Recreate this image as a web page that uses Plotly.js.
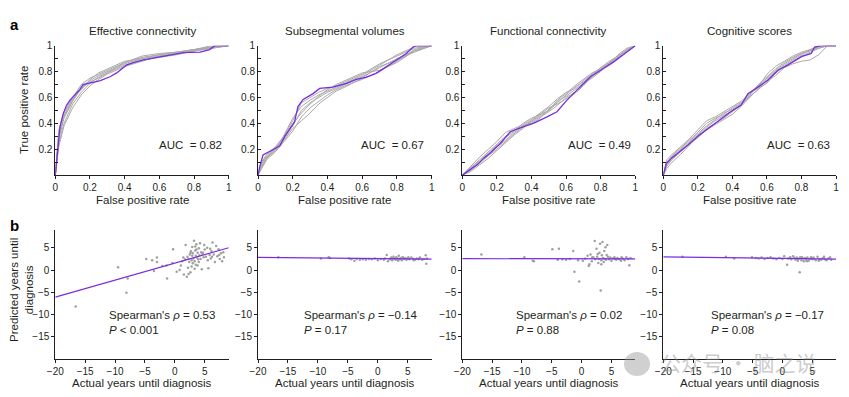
<!DOCTYPE html>
<html><head><meta charset="utf-8">
<script src="https://cdn.plot.ly/plotly-3.0.1.min.js"></script>
<style>html,body{margin:0;padding:0;background:#fff}#c{width:849px;height:397px}</style>
</head><body><div id="c"></div>
<script>
// ---------- DATA ----------
const panelTitles = ["Effective connectivity","Subsegmental volumes","Functional connectivity","Cognitive scores"];
const aucLabels = ["0.82","0.67","0.49","0.63"];
const rhoLabels = ["0.53","\u22120.14","0.02","\u22120.17"];
const pLabels = ["< 0.001","= 0.17","= 0.88","= 0.08"];

// main (purple) ROC curves
const rocFpr1 = [0,0.012,0.027,0.046,0.065,0.085,0.113,0.142,0.16,0.2,0.26,0.315,0.354,0.41,0.45,0.51,0.6,0.74,0.835,0.89,0.92,1];
const rocTpr1 = [0,0.195,0.374,0.477,0.54,0.58,0.62,0.663,0.70,0.71,0.73,0.76,0.79,0.85,0.87,0.89,0.91,0.946,0.95,0.97,1,1];
const rocFpr2 = [0,0.01,0.029,0.048,0.086,0.125,0.154,0.18,0.21,0.23,0.26,0.317,0.355,0.43,0.51,0.566,0.62,0.68,0.74,0.8,0.854,0.893,0.91,1];
const rocTpr2 = [0,0.066,0.156,0.17,0.194,0.225,0.30,0.35,0.41,0.53,0.585,0.63,0.67,0.68,0.71,0.74,0.755,0.786,0.837,0.89,0.94,0.99,1,1];
const rocFpr3 = [0,0.027,0.085,0.123,0.16,0.22,0.277,0.355,0.41,0.49,0.547,0.605,0.68,0.74,0.80,0.875,0.93,0.98,1];
const rocTpr3 = [0,0.027,0.08,0.13,0.17,0.245,0.336,0.375,0.40,0.45,0.49,0.58,0.683,0.76,0.81,0.875,0.93,0.98,1];
const rocFpr4 = [0,0.017,0.046,0.085,0.143,0.2,0.26,0.297,0.336,0.39,0.45,0.49,0.548,0.606,0.664,0.72,0.8,0.857,0.876,0.915,1];
const rocTpr4 = [0,0.09,0.13,0.17,0.233,0.30,0.36,0.39,0.43,0.49,0.54,0.63,0.68,0.735,0.81,0.85,0.915,0.94,0.99,1,1];

// grey (resampled) ROC curves
const greyFpr1 = [0,0.02,0.05,0.1,0.15,0.2,0.25,0.3,0.35,0.4,0.5,0.6,0.7,0.8,0.9,1];
const greyTpr1 = [
 [0,0.30,0.45,0.58,0.68,0.73,0.77,0.80,0.83,0.86,0.90,0.92,0.94,0.96,0.99,1],
 [0,0.25,0.40,0.55,0.64,0.71,0.76,0.79,0.82,0.85,0.89,0.91,0.93,0.96,0.98,1],
 [0,0.35,0.48,0.60,0.70,0.75,0.78,0.81,0.84,0.87,0.91,0.93,0.95,0.97,0.99,1],
 [0,0.22,0.38,0.52,0.62,0.69,0.74,0.78,0.81,0.84,0.88,0.92,0.94,0.96,0.98,1],
 [0,0.28,0.44,0.57,0.67,0.72,0.75,0.79,0.83,0.87,0.92,0.94,0.95,0.97,0.99,1],
 [0,0.32,0.46,0.59,0.66,0.74,0.79,0.82,0.85,0.88,0.90,0.93,0.95,0.97,1,1]
];
const greyFpr2 = [0,0.02,0.05,0.1,0.15,0.2,0.25,0.3,0.35,0.4,0.45,0.5,0.6,0.7,0.8,0.9,1];
const greyTpr2 = [
 [0,0.08,0.14,0.20,0.28,0.38,0.50,0.56,0.60,0.64,0.67,0.70,0.76,0.83,0.90,0.96,1],
 [0,0.05,0.12,0.18,0.26,0.34,0.45,0.52,0.57,0.62,0.66,0.69,0.74,0.80,0.88,0.97,1],
 [0,0.10,0.16,0.22,0.30,0.42,0.56,0.60,0.64,0.67,0.69,0.72,0.78,0.86,0.92,0.98,1],
 [0,0.06,0.13,0.19,0.27,0.36,0.42,0.48,0.55,0.60,0.65,0.68,0.75,0.84,0.89,0.95,1],
 [0,0.09,0.15,0.21,0.29,0.40,0.48,0.55,0.61,0.66,0.70,0.73,0.79,0.81,0.87,0.96,1],
 [0,0.07,0.13,0.20,0.31,0.44,0.53,0.58,0.62,0.65,0.68,0.71,0.77,0.85,0.93,0.99,1]
];
const greyFpr3 = [0,0.05,0.1,0.15,0.2,0.25,0.3,0.35,0.4,0.45,0.5,0.55,0.6,0.65,0.7,0.75,0.8,0.85,0.9,0.95,1];
const greyTpr3 = [
 [0,0.06,0.12,0.18,0.24,0.30,0.35,0.38,0.42,0.46,0.50,0.56,0.62,0.68,0.72,0.77,0.82,0.86,0.91,0.96,1],
 [0,0.04,0.09,0.15,0.20,0.26,0.32,0.37,0.41,0.45,0.49,0.54,0.60,0.64,0.70,0.76,0.81,0.85,0.90,0.95,1],
 [0,0.07,0.14,0.20,0.26,0.33,0.36,0.39,0.43,0.48,0.53,0.59,0.64,0.67,0.73,0.78,0.83,0.88,0.92,0.97,1],
 [0,0.05,0.10,0.16,0.22,0.27,0.33,0.38,0.40,0.44,0.51,0.57,0.61,0.66,0.71,0.75,0.80,0.87,0.92,0.96,1],
 [0,0.03,0.08,0.13,0.19,0.25,0.31,0.36,0.42,0.47,0.52,0.55,0.59,0.63,0.69,0.77,0.83,0.87,0.91,0.97,1],
 [0,0.06,0.11,0.17,0.23,0.29,0.34,0.40,0.44,0.47,0.50,0.58,0.63,0.69,0.74,0.79,0.82,0.86,0.93,0.98,1]
];
const greyFpr4 = [0,0.02,0.05,0.1,0.15,0.2,0.25,0.3,0.35,0.4,0.45,0.5,0.55,0.6,0.65,0.7,0.75,0.8,0.85,0.9,0.95,1];
const greyTpr4 = [
 [0,0.10,0.15,0.21,0.27,0.33,0.40,0.44,0.47,0.52,0.56,0.62,0.70,0.76,0.82,0.87,0.91,0.94,0.96,0.99,1,1],
 [0,0.08,0.13,0.19,0.25,0.31,0.37,0.42,0.46,0.50,0.55,0.60,0.67,0.74,0.80,0.85,0.89,0.93,0.97,1,1,1],
 [0,0.12,0.16,0.22,0.28,0.35,0.42,0.45,0.49,0.53,0.57,0.63,0.68,0.78,0.84,0.88,0.92,0.95,0.97,0.99,1,1],
 [0,0.05,0.10,0.16,0.23,0.30,0.36,0.40,0.44,0.49,0.54,0.61,0.66,0.72,0.77,0.83,0.86,0.88,0.89,0.93,1,1],
 [0,0.09,0.14,0.20,0.26,0.32,0.38,0.43,0.48,0.51,0.55,0.62,0.69,0.75,0.81,0.86,0.90,0.94,0.96,0.98,1,1],
 [0,0.07,0.12,0.18,0.24,0.29,0.35,0.39,0.43,0.47,0.53,0.60,0.67,0.71,0.79,0.84,0.88,0.92,0.95,0.98,1,1]
];

// scatter: actual vs predicted years until diagnosis
const actual1 = [-16.6,-9.5,-8.1,-7.9,-4.8,-3.8,-3.5,-3.0,-3.0,-2.1,-1.4,-1.3,-0.3,-0.4,0.3,0.8,1.0,1.2,1.5,1.8,2.0,2.1,2.2,2.3,2.4,2.5,2.6,2.7,2.8,2.8,2.9,3.0,3.0,3.1,3.2,3.3,3.3,3.4,3.5,3.5,3.6,3.7,3.8,3.9,4.0,4.0,4.1,4.2,4.3,4.4,4.5,4.6,4.8,5.0,5.2,5.4,5.6,5.8,6.0,6.1,6.3,6.5,6.7,6.9,7.1,7.3,7.5,7.7,7.9,8.1,8.2,2.6,3.6,4.7,5.5,6.2,1.4,2.9,3.8,3.4,4.9,2.3,5.9,7.4,1.7];
const predicted1 = [-8.2,0.6,-5.1,-1.9,2.5,2.2,-0.2,2.8,1.8,0.9,1.0,-1.9,4.7,1.6,-0.4,0.0,1.0,2.0,-1.0,5.6,-1.5,3.0,0.5,2.5,1.8,3.5,-0.5,4.2,2.2,0.8,5.2,1.5,3.8,2.6,6.6,2.0,0.3,4.4,3.2,1.2,5.8,2.8,3.9,2.4,4.9,1.8,3.3,6.0,2.5,4.0,0.2,3.6,2.9,4.6,3.0,5.0,0.4,3.4,2.6,4.3,6.2,3.5,1.8,5.4,3.1,4.7,2.5,3.8,2.0,4.0,2.9,3.9,4.6,3.9,2.2,3.0,2.8,3.2,1.0,5.3,5.6,-0.9,4.8,3.4,2.4];
const actual2 = [-16.6,-9.5,-8.2,-8.0,-4.8,-4.4,-3.9,-3.5,-3.0,-2.5,-2.0,-1.5,-1.0,-0.5,0.0,0.5,1.0,1.5,1.7,2.0,2.2,2.4,2.6,2.8,3.0,3.1,3.3,3.5,3.6,3.8,4.0,4.2,4.4,4.6,4.8,5.0,5.3,5.6,5.9,6.2,6.5,6.8,7.1,7.4,7.7,8.0,8.1,8.2,2.5,3.4,4.1,1.2,2.9,5.1,6.0,7.0];
const predicted2 = [2.9,2.6,2.9,2.7,2.6,2.4,2.1,2.5,2.3,2.4,2.3,2.5,2.4,2.6,2.2,2.5,2.3,3.4,2.0,2.4,2.8,2.2,3.0,2.5,2.3,2.9,2.6,3.2,2.4,2.7,2.2,2.9,2.5,2.7,2.3,2.6,2.4,2.8,2.5,2.3,2.6,2.4,2.7,2.3,2.5,3.3,1.4,2.6,2.6,2.1,2.8,2.6,2.7,2.9,2.2,2.8];
const actual3 = [-16.8,-9.6,-8.2,-8.0,-4.9,-3.8,-1.4,-4.0,-3.2,-2.6,-2.0,-1.2,-0.4,-0.6,0.2,0.6,1.0,1.2,1.3,1.5,1.7,2.0,2.2,2.3,2.5,2.6,2.8,2.9,3.0,3.1,3.2,3.3,3.4,3.5,3.6,3.7,3.8,3.9,4.0,4.1,4.3,4.4,4.6,4.8,5.0,5.2,5.5,5.8,6.0,6.3,6.6,6.9,7.2,7.5,7.8,8.0,8.2,2.7,3.3,4.2,1.8,5.6,6.7];
const predicted3 = [3.5,2.9,2.1,2.0,4.7,4.8,4.3,2.3,2.4,2.3,2.5,-0.4,-2.6,2.2,2.1,2.6,3.2,0.9,1.3,3.5,2.0,2.8,6.5,2.4,4.8,3.0,1.6,2.5,3.9,5.9,-4.6,2.2,3.3,6.3,2.7,1.8,4.3,2.5,5.1,2.3,5.6,3.0,2.4,2.8,2.1,2.6,2.9,2.3,2.7,2.4,2.1,2.6,2.2,2.9,2.5,1.1,2.7,3.6,1.3,3.4,2.9,2.5,2.9];
const actual4 = [-16.8,-9.5,-8.1,-5.1,-4.5,-4.0,-3.5,-3.0,-2.5,-2.0,-1.5,-1.0,-0.5,0.0,0.3,0.8,1.0,1.3,1.5,1.8,2.0,2.2,2.4,2.6,2.8,2.9,3.0,3.2,3.4,3.6,3.8,4.0,4.2,4.4,4.6,4.8,5.0,5.3,5.6,5.9,6.2,6.5,6.8,7.1,7.4,7.7,8.0,8.2,2.5,3.3,4.1,5.2,6.1,7.0];
const predicted4 = [3.0,3.0,2.6,2.9,2.7,2.6,2.8,2.5,2.7,2.9,2.6,2.4,2.7,2.5,3.1,1.2,2.6,2.9,2.4,3.1,2.7,2.3,2.8,2.1,2.6,-0.5,2.9,2.2,2.6,2.0,2.7,2.3,2.8,2.1,2.5,2.9,2.4,2.6,2.2,3.0,2.5,2.3,2.7,2.4,2.2,2.6,2.9,2.3,2.5,2.9,2.0,2.8,2.1,3.0];

// regression fit lines (endpoints)
const fitX = [-20, 9];
const fitY1 = [-6.1, 5.0];
const fitY2 = [2.83, 2.46];
const fitY3 = [2.55, 2.52];
const fitY4 = [2.98, 2.46];

// ---------- DRAWING ----------
const W = 849, H = 397;
const FONT = "Liberation Sans, Arial, Helvetica, sans-serif";
const INK = "#231f20";
const PURPLE = "#7b2be0";
const GREY = "#a9a9a9";
const xPix = [[55.3,228.7],[258,431.7],[462.3,635.3],[663.3,836]];
const topPix = [175.2, 45.7], botPix = [359, 230];

const rocF = [rocFpr1,rocFpr2,rocFpr3,rocFpr4];
const rocT = [rocTpr1,rocTpr2,rocTpr3,rocTpr4];
const gF = [greyFpr1,greyFpr2,greyFpr3,greyFpr4];
const gT = [greyTpr1,greyTpr2,greyTpr3,greyTpr4];
const actAll = [actual1,actual2,actual3,actual4];
const predAll = [predicted1,predicted2,predicted3,predicted4];
const fitAll = [fitY1,fitY2,fitY3,fitY4];

const traces = [];
const layout = {
  width: W, height: H, margin: {l:0,r:0,t:0,b:0},
  paper_bgcolor: "#fff", plot_bgcolor: "rgba(0,0,0,0)",
  showlegend: false, font: {family: FONT, color: INK, size: 10},
  annotations: [], shapes: []
};

for (let i = 0; i < 4; i++) {
  const t = i + 1, b = i + 5;
  const xa = "x" + t, ya = "y" + t, xb = "x" + b, yb = "y" + b;
  for (const g of gT[i]) {
    traces.push({x: gF[i], y: g, xaxis: xa, yaxis: ya, mode: "lines", line: {color: GREY, width: 1}, hoverinfo: "skip"});
  }
  traces.push({x: rocF[i], y: rocT[i], xaxis: xa, yaxis: ya, mode: "lines", line: {color: PURPLE, width: 1.3}});
  traces.push({x: actAll[i], y: predAll[i], xaxis: xb, yaxis: yb, mode: "markers", marker: {color: "#a0a0a0", size: 2.5}});
  traces.push({x: fitX, y: fitAll[i], xaxis: xb, yaxis: yb, mode: "lines", line: {color: PURPLE, width: 1.2}});

  const dom = [xPix[i][0] / W, xPix[i][1] / W];
  const axBase = {showline: true, linecolor: INK, linewidth: 1, showgrid: false, zeroline: false,
                  tickcolor: INK, tickwidth: 1, tickfont: {family: FONT, size: 10, color: INK}, fixedrange: true};
  layout["xaxis" + t] = Object.assign({}, axBase, {domain: dom, anchor: ya, range: [0, 1],
      tickmode: "array", tickvals: [0,0.2,0.4,0.6,0.8,1], ticktext: ["0","0.2","0.4","0.6","0.8","1"],
      ticks: "outside", ticklen: 3});
  layout["yaxis" + t] = Object.assign({}, axBase, {domain: [1 - topPix[0] / H, 1 - topPix[1] / H], anchor: xa, range: [0, 1],
      tickmode: "array", tickvals: [0.2,0.4,0.6,0.8,1], ticktext: ["0.2","0.4","0.6","0.8","1"],
      ticks: "inside", ticklen: 3,
      minor: {tickmode: "array", tickvals: [0,0.1,0.3,0.5,0.7,0.9], ticks: "inside", ticklen: 3, tickcolor: INK}});
  layout["xaxis" + b] = Object.assign({}, axBase, {domain: dom, anchor: yb, range: [-20, 9],
      tickmode: "array", tickvals: [-20,-15,-10,-5,0,5], ticks: "outside", ticklen: 3});
  layout["yaxis" + b] = Object.assign({}, axBase, {domain: [1 - botPix[0] / H, 1 - botPix[1] / H], anchor: xb, range: [-20, 9],
      tickmode: "array", tickvals: [-15,-10,-5,0,5], ticks: "outside", ticklen: 3});

  const cx = (xPix[i][0] + xPix[i][1]) / 2 / W;
  layout.annotations.push({xref: "paper", yref: "paper", x: cx, y: 1 - 31 / H, text: panelTitles[i], showarrow: false,
      font: {family: FONT, size: 11.5, color: INK}, xanchor: "center", yanchor: "middle"});
  layout.annotations.push({xref: "paper", yref: "paper", x: cx, y: 1 - 200 / H, text: "False positive rate", showarrow: false,
      font: {family: FONT, size: 11.5, color: INK}, xanchor: "center", yanchor: "middle"});
  layout.annotations.push({xref: "paper", yref: "paper", x: cx, y: 1 - 383 / H, text: "Actual years until diagnosis", showarrow: false,
      font: {family: FONT, size: 11.5, color: INK}, xanchor: "center", yanchor: "middle"});
  const aucX = [0.777, 0.773, 0.795, 0.784][i];
  layout.annotations.push({xref: xa, yref: ya, x: aucX, y: 0.233, text: "AUC\u00a0 = " + aucLabels[i], showarrow: false,
      font: {family: FONT, size: 11.5, color: INK}, xanchor: "center", yanchor: "middle"});
  const spX = [-11.4, -12.6, -11.3, -12.4][i];
  layout.annotations.push({xref: xb, yref: yb, x: spX, y: -11.7, align: "left",
      text: "Spearman's <i>\u03c1</i> = " + rhoLabels[i] + "<br><i>P</i> " + pLabels[i], showarrow: false,
      font: {family: FONT, size: 11.5, color: INK}, xanchor: "left", yanchor: "middle"});
}

layout.annotations.push({xref: "paper", yref: "paper", x: 24 / W, y: 1 - 110 / H, text: "True positive rate", textangle: -90,
    showarrow: false, font: {family: FONT, size: 11.5, color: INK}, xanchor: "center", yanchor: "middle"});
layout.annotations.push({xref: "paper", yref: "paper", x: 21 / W, y: 1 - 290 / H, text: "Predicted years until<br>diagnosis", textangle: -90,
    showarrow: false, font: {family: FONT, size: 11.5, color: INK}, xanchor: "center", yanchor: "middle"});
layout.annotations.push({xref: "paper", yref: "paper", x: 14 / W, y: 1 - 25 / H, text: "<b>a</b>", showarrow: false,
    font: {family: FONT, size: 15, color: "#000"}, xanchor: "center", yanchor: "middle"});
layout.annotations.push({xref: "paper", yref: "paper", x: 14 / W, y: 1 - 226 / H, text: "<b>b</b>", showarrow: false,
    font: {family: FONT, size: 15, color: "#000"}, xanchor: "center", yanchor: "middle"});
// watermark
layout.shapes.push({type: "circle", xref: "paper", yref: "paper", x0: 624 / W, x1: 650 / W, y0: 1 - 376 / H, y1: 1 - 352 / H,
    fillcolor: "rgba(150,150,150,0.45)", line: {width: 0}});
layout.annotations.push({xref: "paper", yref: "paper", x: 738 / W, y: 1 - 362 / H, text: "公众号 · 脑之说", showarrow: false,
    font: {family: "Noto Sans CJK SC", size: 21, color: "rgba(140,140,140,0.45)"}, xanchor: "center", yanchor: "middle"});

Plotly.newPlot("c", traces, layout, {displayModeBar: false, staticPlot: true});
</script></body></html>
